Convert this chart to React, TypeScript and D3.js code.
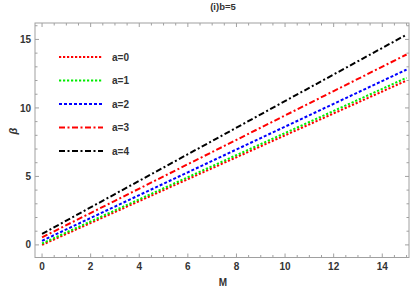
import React, { useEffect, useRef } from 'react';
import * as d3 from 'd3';

const mValues = [0, 3, 6, 9, 12, 15];
const beta_a0 = [0, 2.4, 4.8, 7.2, 9.6, 12.0];
const beta_a1 = [0.1, 2.52, 4.94, 7.36, 9.78, 12.2];
const beta_a2 = [0.3, 2.8, 5.3, 7.8, 10.3, 12.8];
const beta_a3 = [0.55, 3.22, 5.89, 8.56, 11.23, 13.9];
const beta_a4 = [0.8, 3.71, 6.62, 9.53, 12.44, 15.35];
const seriesNames = ['a=0', 'a=1', 'a=2', 'a=3', 'a=4'];
const xTicks = [0, 2, 4, 6, 8, 10, 12, 14];
const yTicks = [0, 5, 10, 15];

const styles = [
  { color: '#ff0000', dash: '2.2,1.8' },
  { color: '#00ee00', dash: '2.2,1.8' },
  { color: '#0000ff', dash: '3,2' },
  { color: '#ff0000', dash: '6,2.5,2,2.5' },
  { color: '#000000', dash: '6,2.5,2,2.5' },
];

export default function App() {
  const ref = useRef<SVGSVGElement>(null);

  useEffect(() => {
    if (!ref.current) return;
    const W = 415, H = 288;
    const svg = d3.select(ref.current);
    svg.selectAll('*').remove();

    const left = 35, right = 409, top = 23, bottom = 257.5;
    const x = d3.scaleLinear().domain([-0.29, 15.1]).range([left, right]);
    const y = d3.scaleLinear().domain([-0.92, 16.2]).range([bottom, top]);
    const font = 'Liberation Sans, Arial, sans-serif';

    svg.append('rect').attr('width', W).attr('height', H).attr('fill', '#fff');

    const all = [beta_a0, beta_a1, beta_a2, beta_a3, beta_a4];

    const g = svg.append('g');
    const line = d3.line<number>().x((_, i) => x(mValues[i])).y(d => y(d));
    all.forEach((s, i) => {
      g.append('path')
        .attr('d', line(s))
        .attr('fill', 'none')
        .attr('stroke', styles[i].color)
        .attr('stroke-width', 2)
        .attr('stroke-dasharray', styles[i].dash);
    });

    // frame
    svg.append('rect')
      .attr('x', left).attr('y', top)
      .attr('width', right - left).attr('height', bottom - top)
      .attr('fill', 'none').attr('stroke', '#a0a0a0').attr('stroke-width', 1);

    const tickColor = '#a0a0a0';
    // x ticks
    d3.range(0, 15.01, 0.5).forEach(v => {
      const major = Math.abs(v % 2) < 1e-6;
      const len = major ? 4 : 2.5;
      const px = x(v);
      svg.append('line').attr('x1', px).attr('x2', px).attr('y1', bottom).attr('y2', bottom - len).attr('stroke', tickColor);
      svg.append('line').attr('x1', px).attr('x2', px).attr('y1', top).attr('y2', top + len).attr('stroke', tickColor);
    });
    d3.range(0, 16.01, 1).forEach(v => {
      const major = v % 5 === 0;
      const len = major ? 4 : 2.5;
      const py = y(v);
      svg.append('line').attr('x1', left).attr('x2', left + len).attr('y1', py).attr('y2', py).attr('stroke', tickColor);
      svg.append('line').attr('x1', right).attr('x2', right - len).attr('y1', py).attr('y2', py).attr('stroke', tickColor);
    });

    svg.selectAll('.xt').data(xTicks).enter().append('text')
      .attr('x', d => x(d)).attr('y', bottom + 12.5)
      .attr('text-anchor', 'middle')
      .attr('font-family', font).attr('font-size', 10).attr('font-weight', 'bold').attr('fill', '#333')
      .text(d => d);
    svg.selectAll('.yt').data(yTicks).enter().append('text')
      .attr('x', left - 4).attr('y', d => y(d) + 3.6)
      .attr('text-anchor', 'end')
      .attr('font-family', font).attr('font-size', 10).attr('font-weight', 'bold').attr('fill', '#333')
      .text(d => d);

    svg.append('text').attr('x', 223).attr('y', 285.5)
      .attr('text-anchor', 'middle')
      .attr('font-family', font).attr('font-size', 10).attr('font-weight', 'bold').attr('fill', '#333')
      .text('M');
    svg.append('text')
      .attr('transform', 'translate(17,131) rotate(-90)')
      .attr('text-anchor', 'middle')
      .attr('font-family', font).attr('font-size', 11).attr('font-style', 'italic').attr('font-weight', 'bold').attr('fill', '#333')
      .text('β');
    svg.append('text').attr('x', 223).attr('y', 9.5)
      .attr('text-anchor', 'middle')
      .attr('font-family', font).attr('font-size', 9.5).attr('font-weight', 'bold').attr('fill', '#333')
      .text('(i)b=5');

    // legend
    seriesNames.forEach((name, i) => {
      const ly = 57 + i * 23.5;
      svg.append('line').attr('x1', 59).attr('x2', 103).attr('y1', ly).attr('y2', ly)
        .attr('stroke', styles[i].color).attr('stroke-width', 2).attr('stroke-dasharray', styles[i].dash);
      svg.append('text').attr('x', 112).attr('y', ly + 3.6)
        .attr('font-family', font).attr('font-size', 10).attr('font-weight', 'bold').attr('fill', '#333')
        .text(name);
    });
  }, []);

  return <svg ref={ref} width={415} height={288} style={{ position: 'absolute', left: 0, top: 0 }} />;
}
